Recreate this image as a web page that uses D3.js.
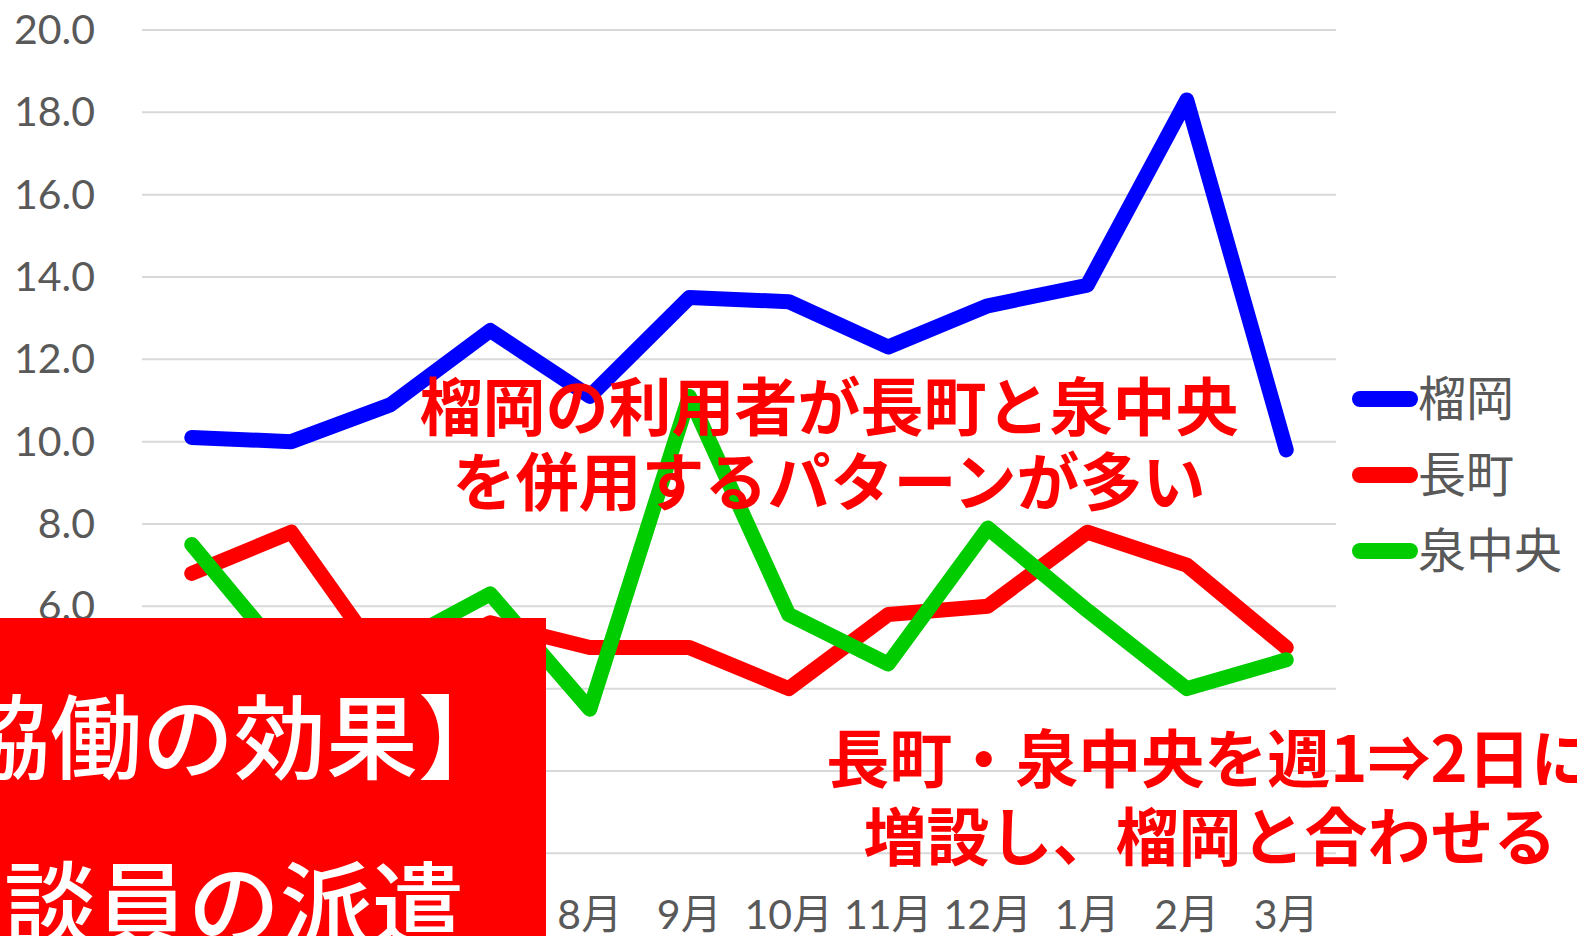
<!DOCTYPE html>
<html><head><meta charset="utf-8">
<script src="https://cdn.jsdelivr.net/npm/d3@7"></script>
<style>html,body{margin:0;padding:0;background:#fff;overflow:hidden}</style>
</head><body>
<svg id="c" width="1577" height="936"></svg>
<script>
const months = ["4月","5月","6月","7月","8月","9月","10月","11月","12月","1月","2月","3月"];
const tsutsujigaoka = [10.1, 10.0, 10.9, 12.7, 11.1, 13.5, 13.4, 12.3, 13.3, 13.8, 18.3, 9.8];
const nagamachi     = [6.8, 7.8, 4.4, 5.6, 5.0, 5.0, 4.0, 5.8, 6.0, 7.8, 7.0, 5.0];
const izumichuo     = [7.5, 4.6, 5.0, 6.3, 3.5, 11.1, 5.8, 4.6, 7.9, 5.9, 4.0, 4.7];
const seriesNames = ["榴岡","長町","泉中央"];
const yTicks = [0,2,4,6,8,10,12,14,16,18,20];
const note1 = ["榴岡の利用者が長町と泉中央","を併用するパターンが多い"];
const note2 = ["長町・泉中央を週1⇒2日に","増設し、榴岡と合わせる"];
const boxText = ["【協働の効果】","相談員の派遣"];

const svg = d3.select("#c");
const pLeft = 142, pRight = 1336, pTop = 30, pBottom = 853.3;
const x = d3.scaleBand().domain(months).range([pLeft, pRight]);
const y = d3.scaleLinear().domain([0, 20]).range([pBottom, pTop]);
const cx = m => x(m) + x.bandwidth() / 2;

// gridlines
svg.append("g").selectAll("line").data(yTicks).join("line")
  .attr("x1", pLeft).attr("x2", pRight)
  .attr("y1", d => y(d)).attr("y2", d => y(d))
  .attr("stroke", "#d9d9d9").attr("stroke-width", 2);

// y labels
svg.append("g").selectAll("text").data(yTicks).join("text")
  .attr("x", 95).attr("y", d => y(d) + 14)
  .attr("text-anchor", "end")
  .attr("font-family", "Lato, 'Noto Sans CJK JP', sans-serif")
  .attr("font-size", 41).attr("fill", "#595959")
  .text(d => d.toFixed(1));

// x labels
svg.append("g").selectAll("text").data(months).join("text")
  .attr("x", d => cx(d)).attr("y", 929)
  .attr("text-anchor", "middle")
  .attr("font-family", "Lato, 'Noto Sans CJK JP', sans-serif")
  .attr("font-size", 41).attr("fill", "#595959")
  .text(d => d);

const colors = ["#0000ff", "#ff0000", "#00cc00"];
const allSeries = [tsutsujigaoka, nagamachi, izumichuo];
const line = d3.line().x((d, i) => cx(months[i])).y(d => y(d));
allSeries.forEach((s, k) => {
  svg.append("path").datum(s).attr("d", line)
    .attr("fill", "none").attr("stroke", colors[k]).attr("stroke-width", 15)
    .attr("stroke-linejoin", "round").attr("stroke-linecap", "round");
});

// legend
const legY = [399, 475, 551];
seriesNames.forEach((n, k) => {
  svg.append("line").attr("x1", 1360).attr("x2", 1410)
    .attr("y1", legY[k]).attr("y2", legY[k])
    .attr("stroke", colors[k]).attr("stroke-width", 16).attr("stroke-linecap", "round");
  svg.append("text").attr("x", 1418).attr("y", legY[k] + 17)
    .attr("font-family", "'Noto Sans CJK JP', sans-serif")
    .attr("font-size", 48).attr("fill", "#595959").text(n);
});

// annotations
const annoFont = "'Noto Sans CJK JP', sans-serif";
[[note1, 829, [430, 505]], [note2, 1210, [782, 860]]].forEach(([lines, ax, ys]) => {
  lines.forEach((t, i) => {
    svg.append("text").attr("x", ax).attr("y", ys[i])
      .attr("text-anchor", "middle").attr("font-family", annoFont)
      .attr("font-weight", 700).attr("font-size", 63).attr("fill", "#ff0000").text(t);
  });
});

// red box
svg.append("rect").attr("x", 0).attr("y", 618).attr("width", 546).attr("height", 330).attr("fill", "#ff0000");
const boxY = [772, 939];
boxText.forEach((t, i) => {
  svg.append("text").attr("x", 188).attr("y", boxY[i])
    .attr("text-anchor", "middle").attr("font-family", annoFont)
    .attr("font-weight", 500).attr("font-size", 92).attr("fill", "#ffffff").text(t);
});
</script>
</body></html>
